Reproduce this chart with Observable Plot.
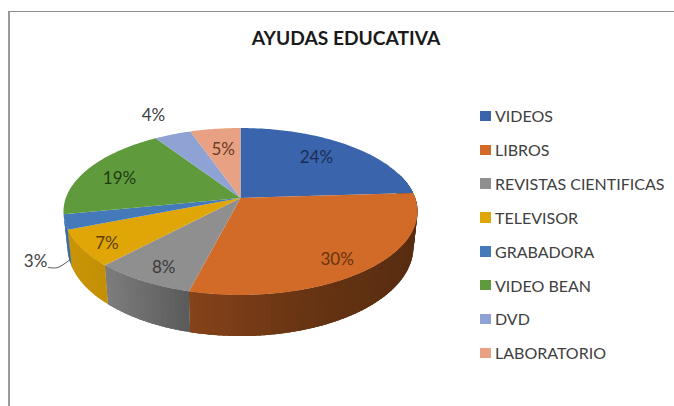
<!DOCTYPE html>
<html>
<head>
<meta charset="utf-8">
<script src="https://cdn.jsdelivr.net/npm/d3@7"></script>
<script src="https://cdn.jsdelivr.net/npm/@observablehq/plot@0.6"></script>
<style>
  html, body { margin: 0; padding: 0; background: #fff; overflow: hidden; }
  #stage { position: relative; width: 674px; height: 406px; font-family: Lato, "Noto Sans", sans-serif; color: #404040; }
  #frame { position: absolute; left: 8px; top: 11px; right: -4px; bottom: -4px; border-left: 2px solid #9a9a9a; border-top: 1px solid #8c8c8c; }
  #title { position: absolute; left: 146px; width: 400px; top: 27px; text-align: center; font-size: 19.2px; font-weight: 700; color: #1a1a1a; margin: 0; line-height: 22px; }
  #legend { position: absolute; left: 480px; top: 99px; }
  .row { display: flex; align-items: center; height: 33.85px; font-size: 16px; white-space: nowrap; }
  .sw { width: 10.5px; height: 10.5px; margin-right: 4.5px; flex: none; }
  svg { position: absolute; left: 0; top: 0; background: transparent; }
</style>
</head>
<body>
<div id="stage">
  <div id="frame"></div>
  <h1 id="title">AYUDAS EDUCATIVA</h1>
  <div id="legend"></div>
</div>
<script>
const categories = ["VIDEOS", "LIBROS", "REVISTAS CIENTIFICAS", "TELEVISOR", "GRABADORA", "VIDEO BEAN", "DVD", "LABORATORIO"];
const shares = [24, 30, 8, 7, 2.9, 18.8, 3.94, 5.36];
const percentLabels = ["24%", "30%", "8%", "7%", "3%", "19%", "4%", "5%"];
const colors = ["#3a64ab", "#d26a28", "#8f8f8f", "#e0a507", "#447ab9", "#5f9b3c", "#8ea3d3", "#e8a283"];
const labelColors = ["#1c2d55", "#66340f", "#3a3a3a", "#5c4008", "#404040", "#1f3c14", "#404040", "#6a3a28"];
// where each percent label sits on the pie: position around it (in %) and radius (1 = rim)
const labelAround = [11.5, 39.9, 57.6, 65.0, 65.6, 80.4, 92.7, 97.4];
const labelRadius = [0.7135, 0.832, 0.841, 0.867, 1.253, 0.765, 1.344, 0.676];

// pie view: centre, perspective and thickness
const view = {cx: 240, cy: 197.5, f: 174.7, g: 81.3, k: 0.1617, depth: 34.4, taper: 0.023};
function project(share, r = 1, d = 0) {
  const t = share / 100 * 2 * Math.PI;
  const X = r * Math.sin(t), Z = -r * Math.cos(t), w = 1 - view.k * Z;
  return {
    x: view.cx + view.f * X / w * (1 - view.taper * d),
    y: view.cy + (view.g * Z + view.depth * d) / w,
    Z
  };
}

const starts = d3.cumsum([0, ...shares]);
const topCells = [];
const sideCells = [];
const shade = d3.scaleLinear().domain([64, 106, 189, 300, 416]).range([0.9, 0.87, 0.63, 0.5, 0.42]).clamp(true);
const rimFrom = 20, rimTo = starts[5], stripStep = 0.4, stripLength = 1;

categories.forEach((name, i) => {
  const a = starts[i], b = starts[i + 1];
  const c = project(0, 0);
  topCells.push({name, x: c.x, y: c.y});
  for (let s = a; ; s += 0.25) {
    const p = project(Math.min(s, b));
    topCells.push({name, x: p.x, y: p.y});
    if (s >= b) break;
  }
  // the rim of this slice: narrow strips, each running on under its neighbour
  const base = d3.rgb(colors[i]);
  for (let s = Math.max(a, rimFrom); s < Math.min(b, rimTo); s += stripStep) {
    const e = Math.min(s + stripLength, b);
    const m = shade(project(s + stripStep / 2).x);
    const col = d3.rgb(base.r * m, base.g * m, base.b * m).formatHex();
    [project(s), project((s + e) / 2), project(e), project(e, 1, 1), project((s + e) / 2, 1, 1), project(s, 1, 1)]
      .forEach(p => sideCells.push({strip: name + s, col, x: p.x, y: p.y, s}));
  }
});
const orderedSide = d3.sort(sideCells, d => d.s);

const labels = percentLabels.map((text, i) => {
  const p = project(labelAround[i], labelRadius[i]);
  return {text, x: p.x, y: p.y, color: labelColors[i]};
});

// leader of the 3% label: two points beside the label, then onto the GRABADORA side
const leader = [project(64.5, 1.224), project(64.1, 1.19), project(69.7, 1, 0.93)];

const plot = Plot.plot({
  width: 674,
  height: 406,
  margin: 0,
  x: {domain: [0, 674], range: [0, 674], axis: null},
  y: {domain: [0, 406], range: [0, 406], axis: null},
  color: {domain: categories, range: colors},
  style: {background: "transparent"},
  marks: [
    Plot.line(orderedSide, {x: "x", y: "y", z: "strip", fill: {value: "col", scale: null}, stroke: null}),
    Plot.line(topCells, {x: "x", y: "y", z: "name", fill: "name", stroke: null}),
    Plot.line(leader, {x: "x", y: "y", stroke: "#555555", strokeWidth: 1, curve: "catmull-rom"}),
    Plot.text(labels, {x: "x", y: "y", text: "text", fill: {value: "color", scale: null}, fontSize: 17, fontFamily: "Lato, 'Noto Sans', sans-serif", textAnchor: "middle", lineAnchor: "middle"})
  ]
});
document.getElementById("stage").appendChild(plot);

const legend = d3.select("#legend");
categories.forEach((name, i) => {
  const row = legend.append("div").attr("class", "row");
  row.append("span").attr("class", "sw").style("background", colors[i]);
  row.append("span").text(name);
});
</script>
</body>
</html>
